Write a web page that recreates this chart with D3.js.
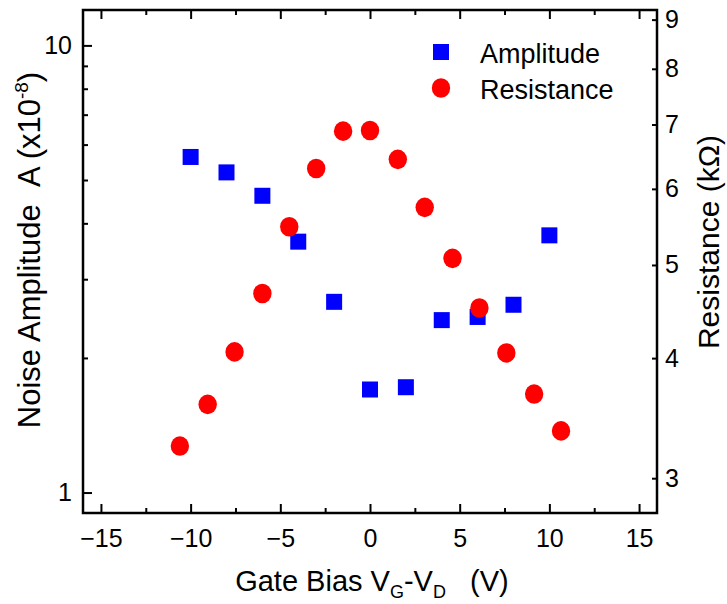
<!DOCTYPE html>
<html>
<head>
<meta charset="utf-8">
<script src="https://d3js.org/d3.v7.min.js"></script>
<style>
  body { margin: 0; background: #fff; }
  text { font-family: "Liberation Sans", Arial, sans-serif; fill: #000; }
</style>
</head>
<body>
<div id="chart"></div>
<script>
// gate bias (V) and noise amplitude (x1e-8)
const ampBias = [-10, -8, -6, -4, -2, 0, 2, 4, 6, 8, 10];
const ampValues = [5.63, 5.2, 4.61, 3.64, 2.67, 1.7, 1.72, 2.43, 2.47, 2.63, 3.76];

// gate bias (V) and resistance (kOhm)
const resBias = [-10.6, -9.05, -7.55, -6, -4.5, -3, -1.5, 0, 1.55, 3.05, 4.6, 6.1, 7.6, 9.15, 10.65];
const resValues = [3.24, 3.58, 4.06, 4.67, 5.48, 6.3, 6.89, 6.9, 6.44, 5.74, 5.08, 4.51, 4.05, 3.67, 3.36];

const xMajor = [-15, -10, -5, 0, 5, 10, 15];
const xMinor = [-12.5, -7.5, -2.5, 2.5, 7.5, 12.5];
const ampMajor = [1, 10];
const ampMinor = [2, 3, 4, 5, 6, 7, 8, 9];
const resTicks = [3, 4, 5, 6, 7, 8, 9];

const W = 727, H = 604;
const margin = { top: 10, right: 70, bottom: 91, left: 83 };
const width = W - margin.left - margin.right;
const height = H - margin.top - margin.bottom;

const svg = d3.select("#chart").append("svg")
  .attr("width", W)
  .attr("height", H);

const g = svg.append("g")
  .attr("transform", `translate(${margin.left},${margin.top})`);

const x = d3.scaleLinear().domain([-16, 16]).range([0, width]);
const yAmp = d3.scaleLog().domain([0.9, 12]).range([height, 0]);
const yRes = d3.scaleLog().domain([2.76, 9.21]).range([height, 0]);

// axes, ticks pointing inward
function tidy(sel) {
  sel.select(".domain").remove();
  sel.selectAll("line").attr("stroke", "#000").attr("stroke-width", 2);
}

g.append("g")
  .attr("transform", `translate(0,${height})`)
  .call(d3.axisBottom(x).tickValues(xMajor).tickSize(-9).tickPadding(16).tickFormat(d3.format("d")))
  .call(tidy)
  .call(s => s.selectAll("text").attr("font-size", 25));

g.append("g")
  .attr("transform", `translate(0,${height})`)
  .call(d3.axisBottom(x).tickValues(xMinor).tickSize(-5).tickFormat(""))
  .call(tidy);

g.append("g")
  .call(d3.axisTop(x).tickValues(xMajor).tickSize(-9).tickFormat(""))
  .call(tidy);

g.append("g")
  .call(d3.axisTop(x).tickValues(xMinor).tickSize(-5).tickFormat(""))
  .call(tidy);

g.append("g")
  .call(d3.axisLeft(yAmp).tickValues(ampMajor).tickSize(-9).tickPadding(11).tickFormat(d3.format("d")))
  .call(tidy)
  .call(s => s.selectAll("text").attr("font-size", 25));

g.append("g")
  .call(d3.axisLeft(yAmp).tickValues(ampMinor).tickSize(-5).tickFormat(""))
  .call(tidy);

g.append("g")
  .attr("transform", `translate(${width},0)`)
  .call(d3.axisRight(yRes).tickValues(resTicks).tickSize(-5).tickPadding(8).tickFormat(d3.format("d")))
  .call(tidy)
  .call(s => s.selectAll("text").attr("font-size", 25));

// frame
g.append("rect")
  .attr("width", width)
  .attr("height", height)
  .attr("fill", "none")
  .attr("stroke", "#000")
  .attr("stroke-width", 2.5);

// data
const sq = 16;
g.selectAll(".amp")
  .data(ampBias.map((b, i) => ({ b, v: ampValues[i] })))
  .join("rect")
  .attr("class", "amp")
  .attr("x", d => x(d.b) - sq / 2)
  .attr("y", d => yAmp(d.v) - sq / 2)
  .attr("width", sq)
  .attr("height", sq)
  .attr("fill", "#0000ff");

g.selectAll(".res")
  .data(resBias.map((b, i) => ({ b, v: resValues[i] })))
  .join("ellipse")
  .attr("class", "res")
  .attr("cx", d => x(d.b))
  .attr("cy", d => yRes(d.v))
  .attr("rx", 9.2)
  .attr("ry", 9.8)
  .attr("fill", "#ff0000");

// legend
const legend = svg.append("g").attr("transform", "translate(441,0)");
legend.append("rect")
  .attr("x", -sq / 2).attr("y", 52 - sq / 2)
  .attr("width", sq).attr("height", sq)
  .attr("fill", "#0000ff");
legend.append("ellipse")
  .attr("cx", 0).attr("cy", 88)
  .attr("rx", 9.2).attr("ry", 9.8)
  .attr("fill", "#ff0000");
legend.append("text").attr("x", 39).attr("y", 63).attr("font-size", 27).text("Amplitude");
legend.append("text").attr("x", 39).attr("y", 99).attr("font-size", 27).text("Resistance");

// axis titles
const xt = svg.append("text")
  .attr("x", 372)
  .attr("y", 591)
  .attr("text-anchor", "middle")
  .attr("font-size", 29);
xt.append("tspan").text("Gate Bias V");
xt.append("tspan").attr("font-size", 18).attr("dy", 7).text("G");
xt.append("tspan").attr("dy", -7).text("-V");
xt.append("tspan").attr("font-size", 18).attr("dy", 7).text("D");
xt.append("tspan").attr("dy", -7).text("\u00a0\u00a0\u00a0(V)");

const yt = svg.append("text")
  .attr("transform", "translate(40,250) rotate(-90)")
  .attr("text-anchor", "middle")
  .attr("font-size", 31);
yt.append("tspan").text("Noise Amplitude \u00a0A (x10");
yt.append("tspan").attr("font-size", 19).attr("dy", -12).text("-8");
yt.append("tspan").attr("dy", 12).text(")");

svg.append("text")
  .attr("transform", "translate(719,242) rotate(-90)")
  .attr("text-anchor", "middle")
  .attr("font-size", 30)
  .text("Resistance (k\u03a9)");
</script>
</body>
</html>
